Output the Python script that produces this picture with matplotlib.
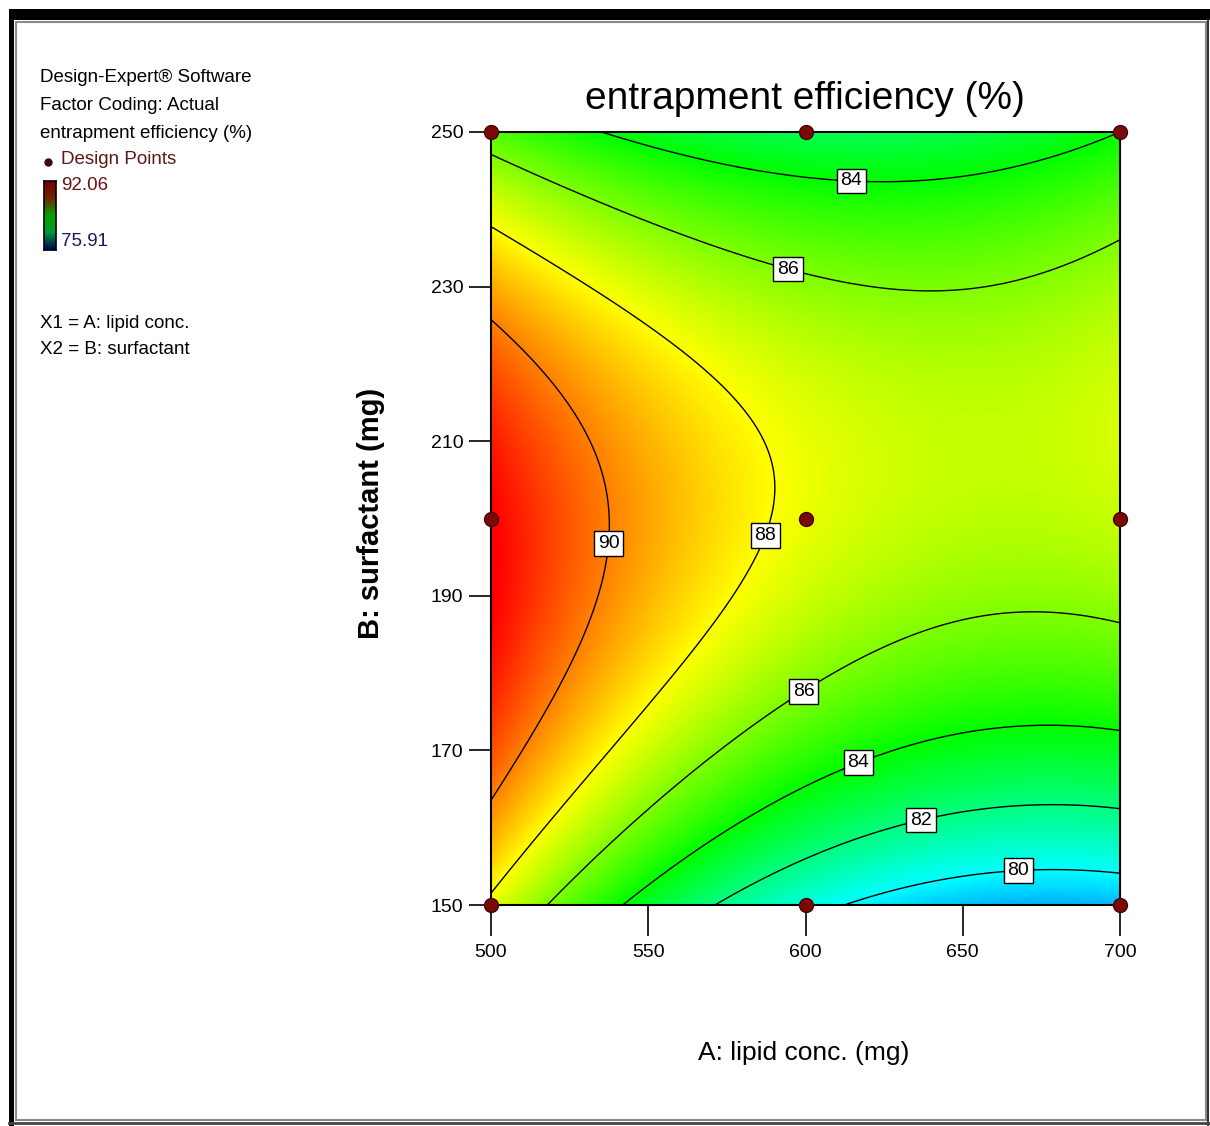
import numpy as np
import matplotlib
matplotlib.use("Agg")
import matplotlib.pyplot as plt
from matplotlib.colors import LinearSegmentedColormap
from matplotlib.patches import Rectangle

# factor levels (actual units)
lipid_levels = [500, 600, 700]
surf_levels = [150, 200, 250]

# predicted entrapment efficiency (%) on the 3x3 design grid, lipid 500/600/700
ee_surf150 = [87.7, 80.5, 78.9]
ee_surf200 = [92.1, 87.7, 87.1]
ee_surf250 = [85.3, 82.8, 84.0]

ee_min, ee_max = 75.91, 92.06
contour_levels = [80, 82, 84, 86, 88, 90]
x_ticks = [500, 550, 600, 650, 700]
y_ticks = [150, 170, 190, 210, 230, 250]
label_spots = [(614.8, 245.1), (595.0, 233.1), (536.9, 196.8), (586.2, 198.0),
               (599.8, 177.4), (617.3, 167.9), (637.0, 160.6), (667.6, 154.9)]

W, H = 1210, 1126
plt.rcParams['font.family'] = ['Liberation Sans', 'DejaVu Sans']


def fx(x):
    return x / W


def fy(y):
    return 1 - y / H


def basis(t):
    # quadratic Lagrange basis on coded levels -1, 0, 1
    return np.stack([t * (t - 1) / 2, 1 - t ** 2, t * (t + 1) / 2])


grid = np.array([ee_surf150, ee_surf200, ee_surf250])
xs = np.linspace(500, 700, 401)
ys = np.linspace(150, 250, 401)
X, Y = np.meshgrid(xs, ys)
A = (X - 600) / 100
B = (Y - 200) / 50
Z = np.einsum('ij,iyx,jyx->yx', grid, basis(B), basis(A))

cmap = LinearSegmentedColormap.from_list(
    'de', [(0, 0, 1), (0, 1, 1), (0, 1, 0), (1, 1, 0), (1, 0, 0)])

fig = plt.figure(figsize=(W / 100, H / 100), dpi=100)

# window frame
fig.add_artist(Rectangle((fx(9), fy(20)), fx(1201), 11 / H, transform=fig.transFigure,
                         fc='black', ec='none'))
fig.add_artist(Rectangle((fx(9), 0), fx(5), fy(9), transform=fig.transFigure,
                         fc='black', ec='none'))
fig.add_artist(Rectangle((fx(16), fy(1120)), fx(1190), (1120 - 22) / H,
                         transform=fig.transFigure, fc='none', ec='#8a8a8a', lw=1.5))
fig.add_artist(plt.Line2D([fx(1208), fx(1208)], [0, fy(20)], transform=fig.transFigure,
                          color='#333333', lw=1.5))
fig.add_artist(plt.Line2D([fx(9), 1], [fy(1123), fy(1123)], transform=fig.transFigure,
                          color='#444444', lw=2))

ax = fig.add_axes([fx(491), fy(905), (1120 - 491) / W, (905 - 132) / H])
ax.imshow(Z, extent=[500, 700, 150, 250], origin='lower', aspect='auto',
          cmap=cmap, vmin=ee_min, vmax=ee_max, interpolation='bilinear')
cs = ax.contour(X, Y, Z, levels=contour_levels, colors='black', linewidths=1.0)
labels = ax.clabel(cs, inline=False, fmt='%d', manual=label_spots, fontsize=14)
for t in labels:
    t.set_rotation(0)
    t.set_bbox(dict(boxstyle='square,pad=0.2', fc='white', ec='black', lw=1))

# design points
dx, dy = np.meshgrid(lipid_levels, surf_levels)
ax.plot(dx.ravel(), dy.ravel(), 'o', ms=10, mfc='#7a0a0a', mec='#4a0000',
        clip_on=False, zorder=5)

ax.set_xlim(500, 700)
ax.set_ylim(150, 250)
ax.set_xticks(x_ticks)
ax.set_yticks(y_ticks)
for s in ax.spines.values():
    s.set_linewidth(1.5)
ax.tick_params(axis='x', length=22, width=1.2, pad=6, labelsize=14)
ax.tick_params(axis='y', length=16, width=1.2, pad=4, labelsize=14)

fig.text(fx(805), fy(99), 'entrapment efficiency (%)', ha='center', va='center',
         fontsize=28)
fig.text(fx(804), fy(1053), 'A: lipid conc. (mg)', ha='center', va='center',
         fontsize=19)
fig.text(fx(371), fy(513), 'B: surfactant (mg)', ha='center', va='center',
         rotation=90, fontsize=21, fontweight='bold')

# info block at the top left
info = dict(fontsize=13.5, ha='left', va='center')
fig.text(fx(40), fy(78), 'Design-Expert® Software', **info)
fig.text(fx(40), fy(105), 'Factor Coding: Actual', **info)
fig.text(fx(40), fy(133), 'entrapment efficiency (%)', **info)
fig.text(fx(61), fy(159), 'Design Points', color='#5a1a1a', **info)
fig.add_artist(plt.Line2D([fx(48)], [fy(162)], marker='o', ms=5, color='#3a0a0a',
                          transform=fig.transFigure))
fig.text(fx(61), fy(186), '92.06', color='#6a1010', **info)
fig.text(fx(61), fy(242), '75.91', color='#1a1a5a', **info)
fig.text(fx(40), fy(323), 'X1 = A: lipid conc.', **info)
fig.text(fx(40), fy(349), 'X2 = B: surfactant', **info)

bar_cmap = LinearSegmentedColormap.from_list(
    'bar', [(0, 0, 0.35), (0, 0.6, 0.2), (0, 0.65, 0), (0.45, 0.15, 0), (0.45, 0, 0)])
cax = fig.add_axes([fx(44), fy(250), 12 / W, 69 / H])
cax.imshow(np.linspace(0, 1, 100)[:, None], aspect='auto', origin='lower', cmap=bar_cmap)
cax.set_xticks([])
cax.set_yticks([])
for s in cax.spines.values():
    s.set_linewidth(1.2)

fig.savefig('out.png', dpi=100)
